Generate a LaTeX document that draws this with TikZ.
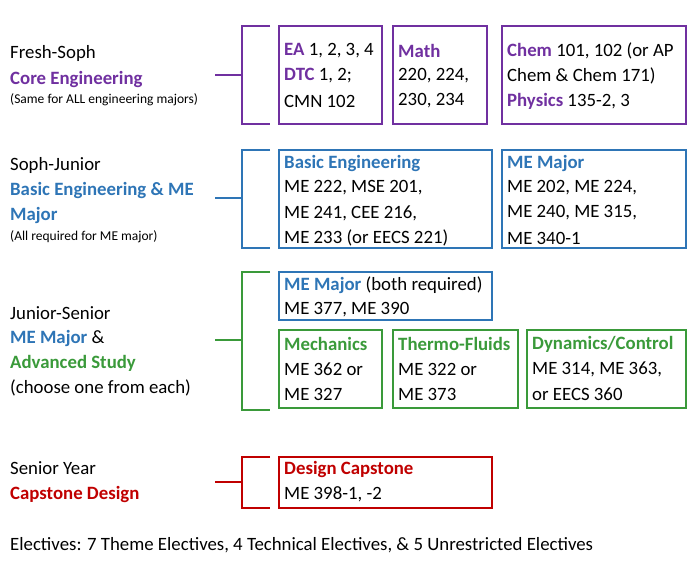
\documentclass[tikz,border=0pt]{standalone}
\usepackage{fontspec}
\setmainfont{Carlito}
\definecolor{pur}{HTML}{7030A0}
\definecolor{blu}{HTML}{2E75B6}
\definecolor{grn}{HTML}{3A9A3A}
\definecolor{rd}{HTML}{C00000}
\begin{document}
\begin{tikzpicture}[x=1pt,y=-1pt,
  box/.style={draw=#1,line width=2pt},
  brk/.style={draw=#1,line width=1.5pt},
  t/.style={anchor=west,inner sep=0pt,font=\fontsize{18.8}{22}\selectfont},
  s/.style={anchor=west,inner sep=0pt,font=\fontsize{13.5}{15}\selectfont}]
\useasboundingbox (0,0) rectangle (700,571);
% row 1
\draw[brk=pur] (270,26) -- (242,26) -- (242,124) -- (270,124);
\draw[brk=pur] (215,75) -- (242,75);
\draw[box=pur] (279,26) rectangle (382,124);
\draw[box=pur] (393,26) rectangle (487,124);
\draw[box=pur] (502,26) rectangle (686,124);
\node[t] (a1) at (10,53) {Fresh-Soph};
\node[t,text=pur] (a2) at (10,79) {\textbf{Core Engineering}};
\node[s] (a3) at (10,100) {(Same for ALL engineering majors)};
\node[t] (b1) at (284,51) {\textcolor{pur}{\textbf{EA}} 1, 2, 3, 4};
\node[t] (b2) at (284,76) {\textcolor{pur}{\textbf{DTC}} 1, 2;};
\node[t] (b3) at (284,101) {CMN 102};
\node[t] (c1) at (398,51) {\textcolor{pur}{\textbf{Math}}};
\node[t] (c2) at (398,76) {220, 224,};
\node[t] (c3) at (398,101) {230, 234};
\node[t] (d1) at (507,51) {\textcolor{pur}{\textbf{Chem}} 101, 102 (or AP};
\node[t] (d2) at (507,76) {Chem \& Chem 171)};
\node[t] (d3) at (507,101) {\textcolor{pur}{\textbf{Physics}} 135-2, 3};
% row 2
\draw[brk=blu] (270,150) -- (242,150) -- (242,248) -- (270,248);
\draw[brk=blu] (215,198) -- (242,198);
\draw[box=blu] (279,150) rectangle (492,248);
\draw[box=blu] (502,150) rectangle (686,248);
\node[t] (e1) at (10,165) {Soph-Junior};
\node[t,text=blu] (e2) at (10,190) {\textbf{Basic Engineering \& ME}};
\node[t,text=blu] (e3) at (10,215) {\textbf{Major}};
\node[s] (e4) at (10,237) {(All required for ME major)};
\node[t,text=blu] (f1) at (284,163) {\textbf{Basic Engineering}};
\node[t] (f2) at (284,188) {ME 222, MSE 201,};
\node[t] (f3) at (284,213) {ME 241, CEE 216,};
\node[t] (f4) at (284,238) {ME 233 (or EECS 221)};
\node[t,text=blu] (g1) at (507,163) {\textbf{ME Major}};
\node[t] (g2) at (507,188) {ME 202, ME 224,};
\node[t] (g3) at (507,213) {ME 240, ME 315,};
\node[t] (g4) at (507,238) {ME 340-1};
% row 3
\draw[brk=grn] (270,272) -- (242,272) -- (242,410) -- (270,410);
\draw[brk=grn] (215,340) -- (242,340);
\draw[box=blu] (279,272) rectangle (492,320);
\draw[box=grn] (279,330) rectangle (382,408);
\draw[box=grn] (393,330) rectangle (518,408);
\draw[box=grn] (527,330) rectangle (686,408);
\node[t] (h1) at (10,313) {Junior-Senior};
\node[t] (h2) at (10,338) {\textcolor{blu}{\textbf{ME Major}} \&};
\node[t,text=grn] (h3) at (10,363) {\textbf{Advanced Study}};
\node[t] (h4) at (10,388) {(choose one from each)};
\node[t] (i1) at (284,285) {\textcolor{blu}{\textbf{ME Major}} (both required)};
\node[t] (i2) at (284,310) {ME 377, ME 390};
\node[t,text=grn] (j1) at (284,344) {\textbf{Mechanics}};
\node[t] (j2) at (284,369) {ME 362 or};
\node[t] (j3) at (284,394) {ME 327};
\node[t,text=grn] (k1) at (398,344) {\textbf{Thermo-Fluids}};
\node[t] (k2) at (398,369) {ME 322 or};
\node[t] (k3) at (398,394) {ME 373};
\node[t,text=grn] (l1) at (532,344) {\textbf{Dynamics/Control}};
\node[t] (l2) at (532,369) {ME 314, ME 363,};
\node[t] (l3) at (532,394) {or EECS 360};
% row 4
\draw[brk=rd] (270,457) -- (242,457) -- (242,508) -- (270,508);
\draw[brk=rd] (215,482) -- (242,482);
\draw[box=rd] (279,457) rectangle (492,508);
\node[t] (m1) at (10,468) {Senior Year};
\node[t,text=rd] (m2) at (10,494) {\textbf{Capstone Design}};
\node[t,text=rd] (n1) at (284,469) {\textbf{Design Capstone}};
\node[t] (n2) at (284,494) {ME 398-1, -2};
\node[t] (o) at (10,545) {Electives: 7 Theme Electives, 4 Technical Electives, \& 5 Unrestricted Electives};
\end{tikzpicture}
\end{document}
